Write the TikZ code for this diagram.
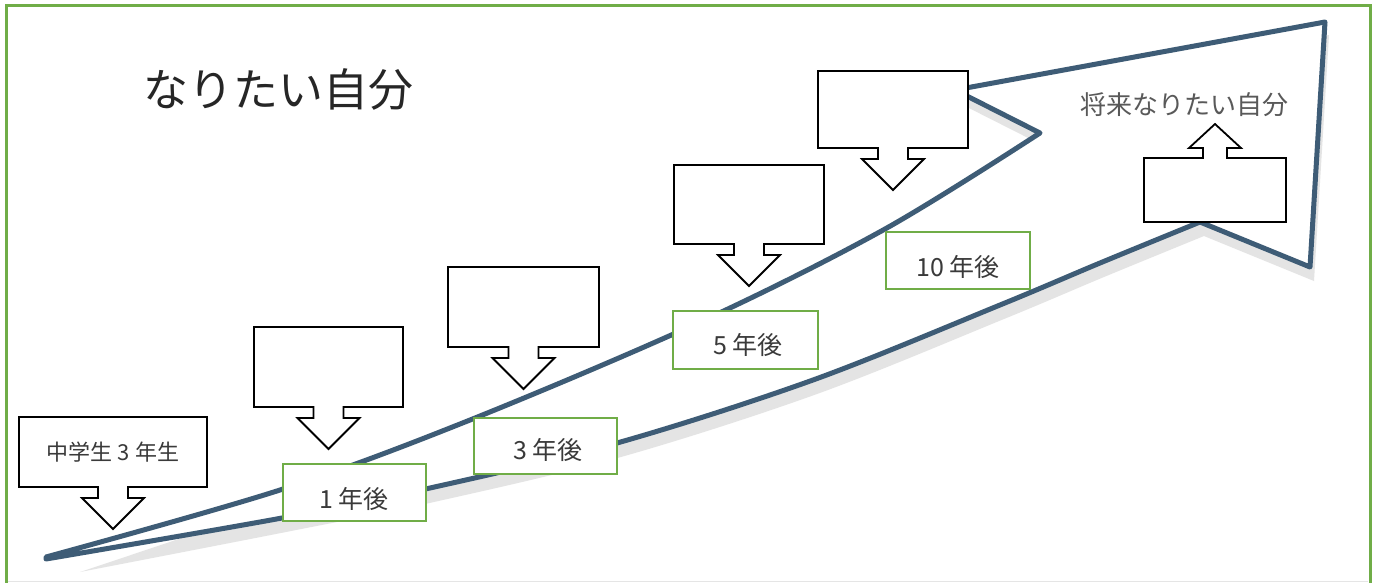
\documentclass[tikz,border=0pt]{standalone}
\usepackage{fontspec}
\newfontfamily\jp{Noto Sans CJK JP}
\definecolor{arrowblue}{RGB}{62,92,118}
\definecolor{boxgreen}{RGB}{112,173,71}
\definecolor{shadowgray}{RGB}{228,228,228}
\definecolor{labelgray}{RGB}{58,58,58}
\tikzset{
  callout/.style={draw=black, fill=white, line width=1.8pt, line join=miter},
  gbox/.style={draw=boxgreen, fill=white, line width=2.4pt, inner sep=0pt, anchor=north west},
  glabel/.style={text=labelgray, font=\jp\fontsize{25}{25}\selectfont, inner sep=0pt},
  pics/downcall/.style 2 args={code={
    \filldraw[callout] (0,0) -- (#1,0) -- (#1,#2) -- ({#1/2+15},#2) -- ({#1/2+15},#2+11)
      -- ({#1/2+31},#2+11) -- ({#1/2},#2+42) -- ({#1/2-31},#2+11) -- ({#1/2-15},#2+11)
      -- ({#1/2-15},#2) -- (0,#2) -- cycle;
  }},
}
\begin{document}
\begin{tikzpicture}[x=1pt,y=-1pt]
\useasboundingbox (0,0) rectangle (1377,582);
\fill[white] (0,0) rectangle (1377,582);
% frame
\draw[gray!20, line width=1pt] (8,581) -- (1368,581);
\draw[boxgreen, line width=3pt] (6.5,583) -- (6.5,5) -- (1370,5) -- (1370,583);

% shadow of the big arrow
\fill[shadowgray] plot[smooth,tension=0.55] coordinates {(80,572) (284,503) (474,433) (704,335) (889,242) (1044,146)}
  -- (959,103) -- (1329,35) -- (1314,281) -- (1204,236)
  -- plot[smooth,tension=0.55] coordinates {(1204,236) (1104,277) (1004,319) (817,394) (621,457) (434,502) (286,532) (80,572)} -- cycle;

% big arrow
\filldraw[fill=white, draw=arrowblue, line width=5pt, line join=round]
  plot[smooth,tension=0.55] coordinates {(46,557) (280,490) (470,420) (700,322) (885,229) (1040,133)}
  -- (955,90) -- (1325,22) -- (1310,267) -- (1200,222)
  -- plot[smooth,tension=0.55] coordinates {(1200,222) (1100,263) (1000,305) (813,380) (617,443) (430,488) (282,518) (46,559)} -- cycle;

% down callouts
\pic at (19,417) {downcall={188}{70}};
\pic at (254,327) {downcall={149}{80}};
\pic at (448,267) {downcall={151}{80}};
\pic at (674,165) {downcall={150}{79}};
\pic at (818,71) {downcall={150}{77}};

% up callout
\filldraw[callout] (1144,158) -- (1203,158) -- (1203,148) -- (1189,148) -- (1215,124) -- (1241,148)
  -- (1227,148) -- (1227,158) -- (1286,158) -- (1286,222) -- (1144,222) -- cycle;

% green year boxes
\node[gbox, minimum width=143, minimum height=57] (b1) at (282,463) {};
\node[gbox, minimum width=143, minimum height=56] (b3) at (473,417) {};
\node[gbox, minimum width=145, minimum height=58] (b5) at (672,310) {};
\node[gbox, minimum width=144, minimum height=57] (b10) at (885,231) {};

\node[glabel] (t1) at (354,499) {1 年後};
\node[glabel] (t3) at (548,450) {3 年後};
\node[glabel] (t5) at (748,345) {5 年後};
\node[glabel] (t10) at (958,267) {10 年後};

% texts
\node[text=labelgray, font=\jp\fontsize{22}{22}\selectfont, inner sep=0pt] (start) at (113,452) {中学生 3 年生};
\node[text=black!85, font=\jp\fontsize{45}{45}\selectfont, inner sep=0pt] (title) at (278,89) {なりたい自分};
\node[text=black!65, font=\jp\fontsize{26}{26}\selectfont, inner sep=0pt] (goal) at (1184,105) {将来なりたい自分};
\end{tikzpicture}
\end{document}
